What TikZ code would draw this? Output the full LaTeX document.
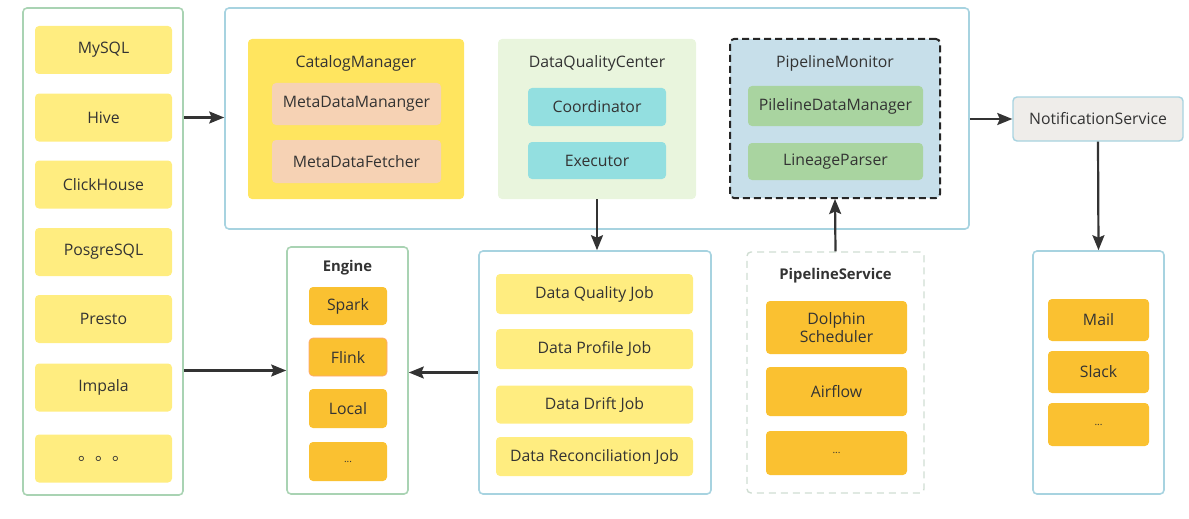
\documentclass[tikz,border=0pt]{standalone}
\usepackage{fontspec}
\setmainfont{Open Sans}
\newfontfamily\cjk{Noto Sans CJK SC}
\usetikzlibrary{arrows.meta}
\definecolor{txt}{HTML}{333333}
\definecolor{ylw}{HTML}{FFED80}
\definecolor{ylwdeep}{HTML}{FFE55F}
\definecolor{peach}{HTML}{F6D2B4}
\definecolor{paleg}{HTML}{E9F5DD}
\definecolor{cyanb}{HTML}{93DFE0}
\definecolor{paleb}{HTML}{C7DFEA}
\definecolor{greenb}{HTML}{A9D4A0}
\definecolor{greyb}{HTML}{EFEDEA}
\definecolor{orng}{HTML}{FAC131}
\definecolor{bordg}{HTML}{A9D3B3}
\definecolor{bordb}{HTML}{A7D3E0}
\definecolor{bordd}{HTML}{CFDDD2}
\definecolor{arrc}{HTML}{333333}
\begin{document}
\begin{tikzpicture}[x=1pt,y=-1pt,
  every node/.style={text=txt,font=\fontsize{15.8}{18}\selectfont,inner sep=0pt},
  box/.style={rectangle,rounded corners=4pt,minimum width=#1},
  cont/.style={rectangle,rounded corners=4pt,draw,line width=1.6pt},
  ybox/.style={box=#1,fill=ylw},
  obox/.style={box=#1,fill=orng},
  ttl/.style={font=\fontsize{15.8}{18}\selectfont},
  bttl/.style={font=\fontsize{14.8}{17}\selectfont\bfseries},
  sdot/.style={font=\fontsize{10}{11}\selectfont},
  arr/.style={draw=arrc,line width=2.2pt,-{Stealth[length=15pt,width=12pt,inset=2.5pt]}}
]
\useasboundingbox (0,0) rectangle (1189,519);
% sources
\node[cont,draw=bordg,minimum width=160pt,minimum height=487pt] (src) at (103,251.5) {};
\node[ybox=137pt,minimum height=48pt] (mysql) at (103.5,50) {MySQL};
\node[ybox=137pt,minimum height=48pt] (hive) at (103.5,117.5) {Hive};
\node[ybox=137pt,minimum height=48pt] (ch) at (103.5,184.5) {ClickHouse};
\node[ybox=137pt,minimum height=48pt] (pg) at (103.5,252) {PosgreSQL};
\node[ybox=137pt,minimum height=48pt] (presto) at (103.5,319) {Presto};
\node[ybox=137pt,minimum height=48pt] (impala) at (103.5,387.5) {Impala};
\node[ybox=137pt,minimum height=48pt,font=\fontsize{17}{18}\selectfont] (sdots) at (103.5,458.5) {\cjk 。。。};
% top container
\node[cont,draw=bordb,minimum width=744pt,minimum height=221pt] (top) at (597,118.5) {};
\node[box=216pt,minimum height=160pt,fill=ylwdeep] (cat) at (356,119) {};
\node[ttl] (catt) at (356,63) {CatalogManager};
\node[box=169pt,minimum height=42pt,fill=peach] (mdm) at (356.5,104) {MetaDataMananger};
\node[box=169pt,minimum height=43pt,fill=peach] (mdf) at (356.5,161.5) {MetaDataFetcher};
\node[box=198pt,minimum height=160pt,fill=paleg] (dqc) at (597,119) {};
\node[ttl] (dqct) at (597,63) {DataQualityCenter};
\node[box=138pt,minimum height=38pt,fill=cyanb] (coord) at (597,107) {Coordinator};
\node[box=138pt,minimum height=37pt,fill=cyanb] (exec) at (597,160.5) {Executor};
\node[box=210pt,minimum height=159pt,fill=paleb,draw=black!85,line width=2pt,dash pattern=on 7pt off 4pt] (pmon) at (835,118.5) {};
\node[ttl] (pmont) at (835,63) {PipelineMonitor};
\node[box=175pt,minimum height=40pt,fill=greenb] (pdm) at (835.5,106) {PilelineDataManager};
\node[box=175pt,minimum height=37pt,fill=greenb] (lp) at (835.5,161.5) {LineageParser};
\node[box=170pt,minimum height=44pt,fill=greyb,draw=bordb,line width=1.4pt] (notif) at (1098,119) {NotificationService};
% engine
\node[cont,draw=bordg,minimum width=121pt,minimum height=247pt] (engine) at (347.5,370.5) {};
\node[bttl] (enginet) at (347.5,268) {Engine};
\node[obox=78pt,minimum height=38pt] (spark) at (348,306) {Spark};
\node[obox=78pt,minimum height=38pt,draw=orange!40!pink,line width=0.6pt] (flink) at (348,357) {Flink};
\node[obox=78pt,minimum height=39pt] (local) at (348,408.5) {Local};
\node[obox=78pt,minimum height=39pt,sdot] (edots) at (348,461.5) {...};
% jobs
\node[cont,draw=bordb,minimum width=232pt,minimum height=243pt] (jobs) at (595,372.5) {};
\node[ybox=197pt,minimum height=40pt] (dqj) at (594.5,294) {Data Quality Job};
\node[ybox=197pt,minimum height=40pt] (dpj) at (594.5,349) {Data Profile Job};
\node[ybox=197pt,minimum height=38pt] (ddj) at (594.5,404.5) {Data Drift Job};
\node[ybox=197pt,minimum height=39pt] (drj) at (594.5,456.5) {Data Reconciliation Job};
% pipeline service
\node[cont,draw=bordd,line width=1.4pt,dash pattern=on 7pt off 5pt,minimum width=177pt,minimum height=241pt] (ps) at (835.5,372.5) {};
\node[bttl] (pst) at (835.5,276) {PipelineService};
\node[obox=141pt,minimum height=53pt,align=center] (dolphin) at (836.5,327.5) {Dolphin\\Scheduler};
\node[obox=141pt,minimum height=49pt] (airflow) at (836.5,391.5) {Airflow};
\node[obox=141pt,minimum height=44pt,sdot] (pdots) at (836.5,453) {...};
% notification targets
\node[cont,draw=bordb,minimum width=131pt,minimum height=243pt] (right) at (1098.5,372.5) {};
\node[obox=101pt,minimum height=42pt] (mail) at (1098.5,320) {Mail};
\node[obox=101pt,minimum height=42pt] (slack) at (1098.5,372) {Slack};
\node[obox=101pt,minimum height=43pt,sdot] (rdots) at (1098.5,424.5) {...};
% arrows
\draw[arr] (hive -| src.east) -- (hive -| top.west);
\draw[arr] (notif -| top.east) -- (notif.west);
\draw[arr] (notif.south) -- (right.north);
\draw[arr] (dqc.south) -- (dqc.south |- jobs.north);
\draw[arr] (ps.north) -- (pmon.south);
\draw[arr] (engine -| src.east) -- (engine.west);
\draw[arr] (jobs.west) -- (jobs.west -| engine.east);
\end{tikzpicture}
\end{document}
